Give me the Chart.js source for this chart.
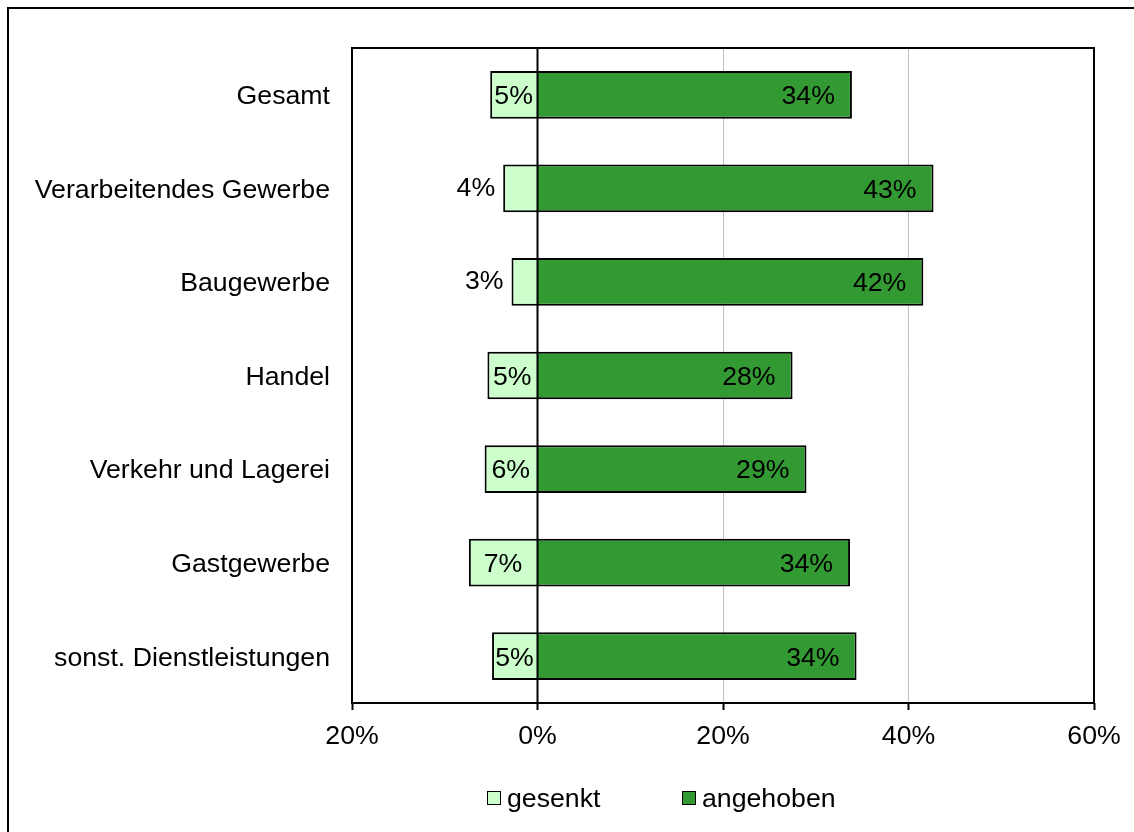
<!DOCTYPE html>
<html>
<head>
<meta charset="utf-8">
<script src="https://cdn.jsdelivr.net/npm/chart.js@4"></script>
<style>
  html, body { margin: 0; padding: 0; background: #fff; overflow: hidden; }
  body { width: 1134px; height: 832px; position: relative; font-family: "Liberation Sans", Arial, sans-serif; }
  #frame { position: absolute; left: 7px; top: 7px; width: 1200px; height: 900px; border: 2px solid #000; }
  #wrap { position: absolute; left: 0; top: 0; width: 1134px; height: 832px; }
  .leg { position: absolute; top: 780px; height: 36px; display: flex; align-items: center; font-size: 26.7px; color: #000; }
  .leg i { display: inline-block; width: 12px; height: 12px; border: 1.5px solid #000; margin-right: 6px; }
</style>
</head>
<body>
<div id="frame"></div>
<div id="wrap"><canvas id="c" width="1134" height="832"></canvas></div>
<div class="leg" style="left:487px"><i style="background:#ccffcc"></i>gesenkt</div>
<div class="leg" style="left:682px"><i style="background:#339933"></i>angehoben</div>
<script>
/* Branchen: Anteil Betriebe, die Preise gesenkt / angehoben haben */

const CATEGORIES = ['Gesamt', 'Verarbeitendes Gewerbe', 'Baugewerbe', 'Handel',
                    'Verkehr und Lagerei', 'Gastgewerbe', 'sonst. Dienstleistungen'];
const GESENKT    = [-5.1, -3.7, -2.8, -5.4, -5.7, -7.4, -4.9];
const ANGEHOBEN  = [33.9, 42.7, 41.6, 27.5, 29.0, 33.7, 34.4];
const X_TICKS    = [-20, 0, 20, 40, 60];

const FONT_FAMILY = '"Liberation Sans", Arial, sans-serif';
const FONT_SIZE = 26.7;
const FONT = FONT_SIZE + 'px ' + FONT_FAMILY;

// plot frame + zero line on top of the bars
const framePlugin = {
  id: 'frame',
  afterDatasetsDraw(chart) {
    const { ctx, chartArea: a, scales } = chart;
    const x0 = scales.x.getPixelForValue(0);
    ctx.save();
    ctx.strokeStyle = '#000';
    ctx.lineWidth = 2;
    ctx.beginPath();
    ctx.moveTo(x0, a.top);
    ctx.lineTo(x0, a.bottom);
    ctx.stroke();
    ctx.strokeRect(a.left, a.top, a.right - a.left, a.bottom - a.top);
    ctx.restore();
  }
};

// value labels like Excel: inside if it fits, else left of the bar
const labelPlugin = {
  id: 'vlabels',
  afterDatasetsDraw(chart) {
    const ctx = chart.ctx;
    ctx.save();
    ctx.font = FONT;
    ctx.fillStyle = '#000';
    ctx.textBaseline = 'middle';
    chart.data.datasets.forEach((ds, di) => {
      chart.getDatasetMeta(di).data.forEach((bar, i) => {
        const txt = Math.round(Math.abs(ds.data[i])) + '%';
        const tw = ctx.measureText(txt).width;
        const w = Math.abs(bar.base - bar.x);
        if (di === 0) {
          if (tw < w) {
            ctx.textAlign = 'center';
            ctx.fillText(txt, (bar.x + bar.base) / 2, bar.y + 2);
          } else {
            ctx.textAlign = 'right';
            ctx.fillText(txt, bar.x - 8, bar.y);
          }
        } else {
          ctx.textAlign = 'right';
          ctx.fillText(txt, bar.x - 17, bar.y + 2);
        }
      });
    });
    ctx.restore();
  }
};

new Chart(document.getElementById('c'), {
  type: 'bar',
  data: {
    labels: CATEGORIES,
    datasets: [
      {
        label: 'gesenkt',
        data: GESENKT,
        backgroundColor: '#ccffcc',
        borderColor: '#000',
        borderWidth: 2,
        borderSkipped: 'start',
        barPercentage: 0.51,
        categoryPercentage: 1
      },
      {
        label: 'angehoben',
        data: ANGEHOBEN,
        backgroundColor: '#339933',
        borderColor: '#000',
        borderWidth: 2,
        borderSkipped: 'start',
        barPercentage: 0.51,
        categoryPercentage: 1
      }
    ]
  },
  options: {
    indexAxis: 'y',
    responsive: false,
    animation: false,
    layout: { padding: { top: 48, right: 40, left: 0, bottom: 0 } },
    plugins: {
      legend: { display: false },
      tooltip: { enabled: false }
    },
    scales: {
      x: {
        stacked: true,
        min: -20, max: 60,
        afterBuildTicks: s => { s.ticks = X_TICKS.map(v => ({ value: v })); },
        afterFit: s => { s.height = 129; },
        border: { display: false },
        grid: {
          color: c => (c.tick && c.tick.value === 0) ? 'rgba(0,0,0,0)' : '#c0c0c0',
          lineWidth: 1,
          tickColor: '#000',
          tickWidth: 2,
          tickLength: 7
        },
        ticks: {
          color: '#000',
          font: { family: FONT_FAMILY, size: FONT_SIZE },
          padding: 11,
          maxRotation: 0,
          callback: v => Math.abs(v) + '%'
        }
      },
      y: {
        stacked: true,
        afterFit: s => { s.width = 352; },
        border: { display: false },
        grid: { display: false, drawTicks: false },
        ticks: {
          color: '#000',
          font: { family: FONT_FAMILY, size: FONT_SIZE },
          padding: 22,
          labelOffset: 2
        }
      }
    }
  },
  plugins: [framePlugin, labelPlugin]
});
</script>
</body>
</html>
